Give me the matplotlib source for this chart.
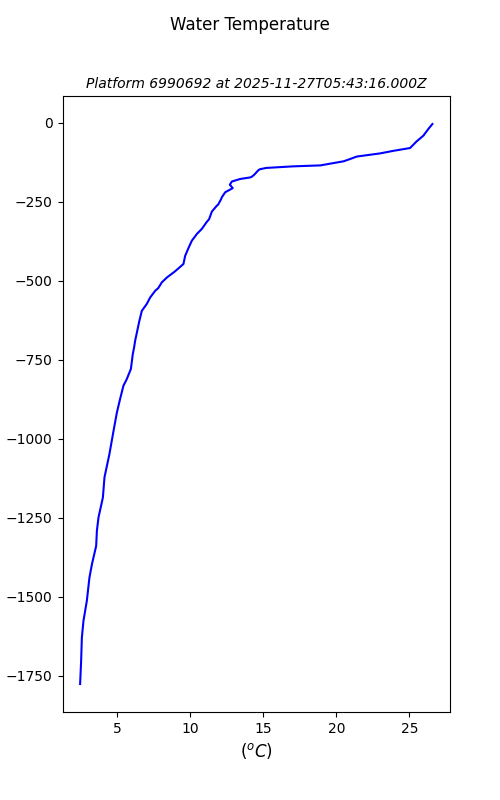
import matplotlib
matplotlib.use("Agg")
import matplotlib.pyplot as plt

# profile (temperature in degC, depth in m, negative down)
temp = [26.58, 26.3, 25.96, 25.5, 25.05, 23.9, 23.0, 21.4, 21.05, 20.5,
        18.9, 17.05, 15.2, 14.77, 14.66, 14.36, 14.2, 14.1, 13.4, 12.84,
        12.7, 12.9, 12.5, 12.38, 12.15, 12.1, 11.9, 11.8, 11.47, 11.28,
        11.1, 10.78, 10.44, 10.1, 9.86, 9.64, 9.52, 8.95, 8.38, 8.04,
        7.8, 7.58, 7.24, 7.0, 6.67, 6.5, 6.33, 6.21, 6.14, 6.05,
        5.92, 5.64, 5.41, 5.18, 4.96, 4.73, 4.45, 4.11, 4.0, 3.7,
        3.59, 3.54, 3.25, 3.08, 2.9, 2.67, 2.56, 2.51, 2.44]
depth = [-4, -20, -41, -59, -80, -89, -97, -107, -113, -122,
         -135, -138, -143, -147, -150, -165, -171, -173, -178, -186,
         -196, -207, -217, -220, -236, -242, -259, -263, -281, -305,
         -315, -336, -352, -373, -397, -421, -447, -470, -490, -505,
         -523, -532, -553, -574, -595, -627, -664, -690, -711, -732,
         -779, -811, -832, -874, -917, -975, -1048, -1122, -1186, -1249,
         -1291, -1339, -1397, -1439, -1513, -1576, -1629, -1703, -1776]

fig, ax = plt.subplots(figsize=(5, 8), dpi=100)
ax.plot(temp, depth, color="blue")
fig.suptitle("Water Temperature")
ax.set_title("Platform 6990692 at 2025-11-27T05:43:16.000Z", fontsize=10, style="italic")
ax.set_xlabel("$(^oC)$", fontsize=12)
ax.set_ylabel("depth (m)")
fig.savefig("out.png")
